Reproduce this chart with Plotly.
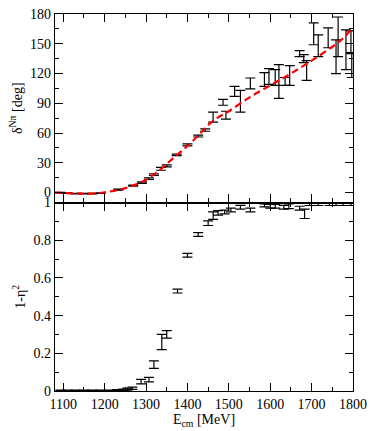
import plotly.graph_objects as go
from plotly.subplots import make_subplots

# phase shift data (top panel)
e_delta = [1093, 1110, 1130, 1150, 1170, 1190, 1233, 1269, 1290, 1307, 1319, 1336, 1350,
           1374, 1400, 1426, 1443, 1462, 1486, 1493, 1514, 1528, 1552, 1586, 1597, 1612,
           1621, 1636, 1647, 1671, 1681, 1688, 1705, 1716, 1740, 1759, 1764, 1783, 1795, 1797]
delta = [0, -0.5, -1, -1, -1, -0.5, 3, 7, 10, 14, 18, 24, 27,
         38, 48, 57, 63, 76, 91, 78, 102, 92, 110, 114, 117, 116,
         112, 112, 118, 140, 135, 123, 160, 148, 156, 137, 157, 144, 152, 128]
delta_err = [0.3, 0.3, 0.3, 0.3, 0.3, 0.3, 0.5, 0.5, 0.7, 0.8, 0.8, 1.5, 1,
             0.8, 1, 1, 1.2, 5, 3, 4, 5, 11, 5.5, 7, 8, 8,
             17, 4, 10, 3, 4, 10, 11, 11, 10, 17, 20, 20, 11, 12]

# fit curve (red dashed)
e_fit = [1080, 1100, 1125, 1150, 1175, 1200, 1225, 1250, 1275, 1300, 1325, 1350, 1375,
         1400, 1425, 1450, 1475, 1500, 1550, 1600, 1650, 1700, 1750, 1775, 1800]
delta_fit = [0, -0.3, -0.8, -1, -0.8, 0.3, 2, 4.5, 8, 13, 20, 29, 38,
             47, 57, 68, 76, 82, 96, 108, 120, 133, 147, 155, 167]

# inelasticity data (bottom panel)
e_eta = [1093, 1110, 1130, 1150, 1170, 1190, 1210, 1230, 1245, 1255, 1267, 1288, 1307,
         1319, 1338, 1350, 1376, 1400, 1426, 1450, 1462, 1474, 1490, 1505, 1528, 1552,
         1586, 1600, 1612, 1633, 1645, 1671, 1683, 1695, 1716, 1743, 1759, 1776, 1795]
eta = [0.003, 0.003, 0.003, 0.003, 0.003, 0.003, 0.003, 0.004, 0.006, 0.01, 0.015, 0.05, 0.06,
       0.14, 0.26, 0.30, 0.53, 0.72, 0.83, 0.89, 0.93, 0.945, 0.95, 0.96, 0.975, 0.96,
       0.985, 0.98, 0.98, 0.975, 0.98, 0.97, 0.94, 0.99, 0.99, 0.99, 0.99, 0.99, 0.99]
eta_err = [0.002, 0.002, 0.002, 0.002, 0.002, 0.002, 0.002, 0.003, 0.004, 0.005, 0.006, 0.012, 0.012,
           0.02, 0.04, 0.02, 0.01, 0.01, 0.01, 0.012, 0.02, 0.012, 0.01, 0.01, 0.01, 0.01,
           0.008, 0.01, 0.01, 0.01, 0.012, 0.01, 0.025, 0.006, 0.006, 0.006, 0.006, 0.006, 0.006]

FONT = "Liberation Serif, Times New Roman, serif"

fig = make_subplots(rows=2, cols=1, shared_xaxes=True, vertical_spacing=0)

fig.add_trace(go.Scatter(
    x=e_delta, y=delta, mode="markers",
    marker=dict(size=1, color="rgba(0,0,0,0)"),
    error_y=dict(type="data", array=delta_err, color="black", thickness=1.2, width=5),
    showlegend=False), row=1, col=1)

fig.add_trace(go.Scatter(
    x=e_fit, y=delta_fit, mode="lines", line_shape="spline",
    line=dict(color="#ff0000", width=2.2, dash="7px,4px"),
    showlegend=False), row=1, col=1)

fig.add_trace(go.Scatter(
    x=e_eta, y=eta, mode="markers",
    marker=dict(size=1, color="rgba(0,0,0,0)"),
    error_y=dict(type="data", array=eta_err, color="black", thickness=1.2, width=5),
    showlegend=False), row=2, col=1)

axis_style = dict(
    showline=True, linecolor="black", linewidth=1.2, mirror="allticks",
    ticks="inside", ticklen=8, tickwidth=1, tickcolor="black",
    showgrid=False, zeroline=False,
    tickfont=dict(family=FONT, size=14, color="black"),
)

fig.update_xaxes(**axis_style, range=[1080, 1800], dtick=100,
                 minor=dict(ticks="inside", ticklen=4, dtick=50, tickcolor="black"))
fig.update_xaxes(title=dict(text="E<sub>cm</sub> [MeV]", font=dict(family=FONT, size=14),
                            standoff=0), row=2, col=1)

fig.update_yaxes(**axis_style)
fig.update_yaxes(range=[-10, 180], dtick=30,
                 minor=dict(ticks="inside", ticklen=4, dtick=15, tickcolor="black"),
                 title=dict(text="δ<sup>Nπ</sup> [deg]", font=dict(family=FONT, size=14),
                            standoff=4),
                 row=1, col=1)
fig.update_yaxes(range=[0, 1], tickvals=[0, 0.2, 0.4, 0.6, 0.8, 1],
                 ticktext=["0", "0.2", "0.4", "0.6", "0.8", "1"],
                 minor=dict(ticks="inside", ticklen=4, dtick=0.1, tickcolor="black"),
                 title=dict(text="1-η<sup>2</sup>", font=dict(family=FONT, size=14),
                            standoff=4),
                 row=2, col=1)

fig.update_layout(
    width=374, height=431,
    margin=dict(l=55, r=17, t=7, b=40),
    plot_bgcolor="white", paper_bgcolor="white",
    font=dict(family=FONT, size=14, color="black"),
)

fig.write_html("out.html", config={"displayModeBar": False},
               post_script="document.body.style.margin='0';document.body.style.overflow='hidden';")
